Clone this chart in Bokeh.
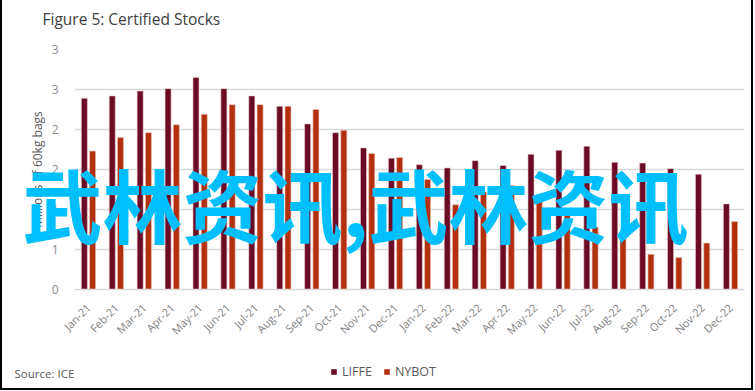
import math
from bokeh.plotting import figure
from bokeh.models import (FactorRange, Range1d, FixedTicker, Legend, LegendItem,
                          ColumnDataSource)
from bokeh.core.properties import value
from bokeh.transform import dodge
from bokeh.embed import file_html
from bokeh.resources import INLINE

months = ["Jan-21", "Feb-21", "Mar-21", "Apr-21", "May-21", "Jun-21", "Jul-21", "Aug-21",
          "Sep-21", "Oct-21", "Nov-21", "Dec-21", "Jan-22", "Feb-22", "Mar-22", "Apr-22",
          "May-22", "Jun-22", "Jul-22", "Aug-22", "Sep-22", "Oct-22", "Nov-22", "Dec-22"]
liffe = [2.39, 2.42, 2.48, 2.51, 2.65, 2.51, 2.42, 2.29, 2.07, 1.96, 1.77, 1.64,
         1.56, 1.52, 1.61, 1.55, 1.69, 1.74, 1.79, 1.59, 1.58, 1.51, 1.44, 1.07]
nybot = [1.73, 1.90, 1.96, 2.06, 2.19, 2.31, 2.31, 2.29, 2.25, 1.99, 1.70, 1.65,
         1.375, 1.06, 1.22, 1.30, 1.12, 0.96, 0.78, 0.72, 0.44, 0.40, 0.58, 0.85]
y_ticks = [0, 0.5, 1.0, 1.5, 2.0, 2.5, 3.0]
y_tick_labels = ["0", "1", "1", "2", "2", "3", "3"]

title_text = "Figure 5: Certified Stocks"
y_label = "Millions of 60kg bags"
source_text = "Source: ICE"
watermark = "武林资讯,武林资讯"
series_names = ["LIFFE", "NYBOT"]

FONT = "Open Sans"
C_LIFFE = "#6b0b26"
C_NYBOT = "#b2300e"
W, H = 753, 390

src = ColumnDataSource(dict(month=months, liffe=liffe, nybot=nybot))

p = figure(width=W, height=H, output_backend="svg", toolbar_location=None,
           x_range=FactorRange(*months, range_padding=0), y_range=Range1d(0, 3),
           min_border_left=72, min_border_right=11, min_border_top=49, min_border_bottom=101,
           background_fill_color="white", border_fill_color="white")
p.outline_line_color = None
p.styles = {"border-left": "2px solid black", "border-right": "2px solid black",
            "border-bottom": "2px solid black"}

p.vbar(x=dodge("month", -0.148, range=p.x_range), top="liffe", width=0.215, source=src,
       fill_color=C_LIFFE, line_color="#e8c6c6", line_width=0.6)
p.vbar(x=dodge("month", 0.148, range=p.x_range), top="nybot", width=0.215, source=src,
       fill_color=C_NYBOT, line_color="#eec3b3", line_width=0.6)

# grids / axes
p.xgrid.grid_line_color = None
p.ygrid.grid_line_color = "#d9d9d9"
p.ygrid.grid_line_width = 1.5

p.yaxis.ticker = FixedTicker(ticks=y_ticks)
p.yaxis.major_label_overrides = {t: l for t, l in zip(y_ticks, y_tick_labels)}
p.yaxis.axis_line_color = None
p.yaxis.major_tick_line_color = None
p.yaxis.minor_tick_line_color = None
p.yaxis.major_label_standoff = 10
p.yaxis.major_label_text_font = FONT
p.yaxis.major_label_text_font_size = "12px"
p.yaxis.major_label_text_color = "#8c8c8c"
p.yaxis.axis_label = y_label
p.yaxis.axis_label_text_font = FONT
p.yaxis.axis_label_text_font_size = "12px"
p.yaxis.axis_label_text_font_style = "normal"
p.yaxis.axis_label_text_color = "#595959"
p.yaxis.axis_label_standoff = 3

p.xaxis.axis_line_color = "#d9d9d9"
p.xaxis.axis_line_width = 1.5
p.xaxis.major_tick_line_color = None
p.xaxis.minor_tick_line_color = None
p.xaxis.major_label_orientation = math.pi / 4
p.xaxis.major_label_standoff = 10
p.xaxis.major_label_text_font = FONT
p.xaxis.major_label_text_font_size = "11px"
p.xaxis.major_label_text_color = "#7f7f7f"

# transparent overlay (pixel coordinates) for title, legend, source note and watermark
ov = figure(width=W, height=H, output_backend="svg", toolbar_location=None,
            x_range=Range1d(0, W), y_range=Range1d(H, 0),
            x_axis_location=None, y_axis_location=None, min_border=0)
ov.grid.grid_line_color = None
ov.outline_line_color = None
ov.background_fill_alpha = 0
ov.border_fill_alpha = 0
ov.styles = {"position": "absolute", "left": "0px", "top": "0px", "pointer-events": "none"}

# legend keys only (zero-height bars, nothing drawn)
g1 = ov.vbar(x=[0], top=[0], bottom=[0], width=1, fill_color=C_LIFFE, line_color=None)
g2 = ov.vbar(x=[0], top=[0], bottom=[0], width=1, fill_color=C_NYBOT, line_color=None)
legend = Legend(items=[LegendItem(label=series_names[0], renderers=[g1]),
                       LegendItem(label=series_names[1], renderers=[g2])],
                location=(330, 10), orientation="horizontal",
                glyph_width=7, glyph_height=7, label_standoff=5, spacing=11,
                padding=0, margin=0, border_line_color=None, background_fill_alpha=0,
                label_text_font=FONT, label_text_font_size="12.5px", label_text_color="#595959")
ov.add_layout(legend)

ov.text(x=[42], y=[18], text=[title_text], text_font=value(FONT), text_font_size="15.5px",
        text_color="#404040", text_baseline="middle")
ov.text(x=[14], y=[373], text=[source_text], text_font=value(FONT), text_font_size="11.5px",
        text_color="#595959", text_baseline="middle")
ov.text(x=[22], y=[201], text=[watermark], text_font=value("Noto Sans CJK SC"),
        text_font_size="80px", text_font_style="bold", text_color="#00bfff",
        text_baseline="middle")

open("out.html", "w").write(file_html([p, ov], INLINE))
